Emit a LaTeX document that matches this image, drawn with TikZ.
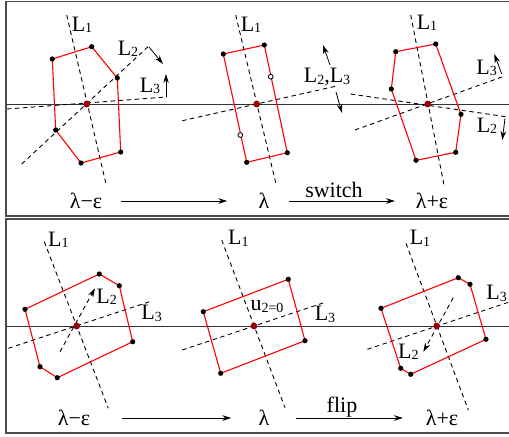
\documentclass[tikz,border=0pt]{standalone}
\usepackage{fontspec}
\setmainfont{Liberation Serif}
\usetikzlibrary{arrows.meta}
\newcommand{\Ls}[1]{L\raisebox{-.15ex}{\scriptsize #1}}
\begin{document}
\begin{tikzpicture}[x=0.5pt, y=-0.5pt, >={Stealth[length=4.5pt,width=2.8pt]},
    every node/.style={font=\fontsize{11}{13}\selectfont, inner sep=1pt},
    dot/.style={circle, fill=black, inner sep=0pt, minimum size=2.6pt},
    odot/.style={circle, draw=black, fill=white, inner sep=0pt, minimum size=2.4pt, line width=0.4pt},
    ctr/.style={circle, fill=red!60!black, inner sep=0pt, minimum size=3.4pt},
    axis/.style={line width=0.45pt, dash pattern=on 2.2pt off 1.8pt},
    poly/.style={red, line width=0.55pt},
    frame/.style={draw=black!70, line width=0.9pt}]
    \useasboundingbox (0,0) rectangle (509,436);

    % frames and horizontal axes
    \draw[frame] (6,1.5) rectangle (530,216);
    \draw[frame] (6,219) rectangle (530,433);
    \draw[black!80, line width=0.5pt] (6,104) -- (509,104);
    \draw[black!80, line width=0.5pt] (6,326) -- (509,326);

    % top left
    \draw[axis] (66.7,15) -- (106,184);
    \draw[axis] (21.7,164) -- (148,46.7);
    \draw[axis] (7,109) -- (166,97);
    \foreach \x/\y [count=\i] in {52.3/59,91.7/46.7,117.3/78,120.7/152,81/163,55.7/130}
        \coordinate (a\i) at (\x,\y);
    \draw[poly] (a1) -- (a2) -- (a3) -- (a4) -- (a5) -- (a6) -- cycle;
    \foreach \i in {1,...,6} \node[dot] (da\i) at (a\i) {};
    \node[ctr] (ca) at (86.7,104) {};
    \node (l1a) at (82,25) {\Ls{1}};
    \node (l2a) at (128,49) {\Ls{2}};
    \node (l3a) at (150,86) {\Ls{3}};
    \draw[->] (149,47) -- (163,64);
    \draw[->] (166,97) -- (166,74);

    % top middle
    \draw[axis] (235.7,15) -- (276,184);
    \draw[axis] (182.3,120.7) -- (336.7,86);
    \foreach \x/\y [count=\i] in {223.3/54,264.3/45,287.3/152.7,246.7/162.3}
        \coordinate (b\i) at (\x,\y);
    \draw[poly] (b1) -- (b2) -- (b3) -- (b4) -- cycle;
    \foreach \i in {1,...,4} \node[dot] (db\i) at (b\i) {};
    \node[odot] (ob1) at (270.7,76.7) {};
    \node[odot] (ob2) at (240.3,135) {};
    \node[ctr] (cb) at (256.7,104) {};
    \node (l1b) at (251,25) {\Ls{1}};
    \node (l23b) at (327,77) {\Ls{2},\Ls{3}};
    \draw[->] (330,65) -- (323,45);
    \draw[->] (336,92) -- (342,113);

    % top right
    \draw[axis] (410.7,15) -- (444,185);
    \draw[axis] (355,130) -- (502.7,76.7);
    \draw[axis] (350.7,94) -- (505.7,116.7);
    \foreach \x/\y [count=\i] in {395.7/51.7,435.7/44,461/114.3,455.7/152.3,416/160.3,391.3/89}
        \coordinate (c\i) at (\x,\y);
    \draw[poly] (c1) -- (c2) -- (c3) -- (c4) -- (c5) -- (c6) -- cycle;
    \foreach \i in {1,...,6} \node[dot] (dc\i) at (c\i) {};
    \node[ctr] (cc) at (427.7,104) {};
    \node (l1c) at (427,23) {\Ls{1}};
    \node (l3c) at (486.7,68) {\Ls{3}};
    \node (l2c) at (487,126) {\Ls{2}};
    \draw[->] (501.7,74) -- (494.3,54);
    \draw[->] (505,118.3) -- (502.3,140);

    % top labels
    \node (m1) at (86,201) {λ−ε};
    \node (m2) at (264,201) {λ};
    \node (m3) at (432,201) {λ+ε};
    \node (sw) at (334,190) {switch};
    \draw[->, line width=0.5pt, shorten <=8pt, shorten >=14.5pt] (m1) -- (m2);
    \draw[->, line width=0.5pt, shorten <=8.5pt, shorten >=9.25pt] (m2) -- (m3);

    % bottom left
    \draw[axis] (44.3,241.7) -- (108.3,408.3);
    \draw[axis] (8.3,348.3) -- (151.7,301);
    \draw[axis, ->] (60,351.7) -- (95,288.3);
    \foreach \x/\y [count=\i] in {25/309.3,99.3/274,119.3/285.7,132.7/341.7,57.3/377.7,40/366.7}
        \coordinate (d\i) at (\x,\y);
    \draw[poly] (d1) -- (d2) -- (d3) -- (d4) -- (d5) -- (d6) -- cycle;
    \foreach \i in {1,...,6} \node[dot] (dd\i) at (d\i) {};
    \node[ctr] (cd) at (76.7,326) {};
    \node (l1d) at (58.3,240) {\Ls{1}};
    \node (l2d) at (106.7,296.7) {\Ls{2}};
    \node (l3d) at (151.7,313.3) {\Ls{3}};

    % bottom middle
    \draw[axis] (221.7,240) -- (285,407.7);
    \draw[axis] (182.3,350) -- (325,302.3);
    \foreach \x/\y [count=\i] in {203.3/311.7,288.3/279.3,305/340.7,220.7/373.3}
        \coordinate (e\i) at (\x,\y);
    \draw[poly] (e1) -- (e2) -- (e3) -- (e4) -- cycle;
    \foreach \i in {1,...,4} \node[dot] (de\i) at (e\i) {};
    \node[ctr] (ce) at (254,326) {};
    \node (l1e) at (238.3,238.3) {\Ls{1}};
    \node (l3e) at (325,314.3) {\Ls{3}};
    \node (u2) at (267,306.7) {u\raisebox{-.15ex}{\scriptsize 2=0}};

    % bottom right
    \draw[axis] (406,243.3) -- (468.3,410);
    \draw[axis] (367.3,349.3) -- (508.3,302.3);
    \draw[axis, ->] (453.3,297.7) -- (423.3,351.7);
    \foreach \x/\y [count=\i] in {381/308.3,458.3/277.7,470/284.3,486/339.3,410.7/374.3,400.7/368.3}
        \coordinate (f\i) at (\x,\y);
    \draw[poly] (f1) -- (f2) -- (f3) -- (f4) -- (f5) -- (f6) -- cycle;
    \foreach \i in {1,...,6} \node[dot] (df\i) at (f\i) {};
    \node[ctr] (cf) at (436.7,326) {};
    \node (l1f) at (420,238.3) {\Ls{1}};
    \node (l3f) at (496.7,293.3) {\Ls{3}};
    \node (l2f) at (408.3,351.7) {\Ls{2}};

    % bottom labels
    \node (m4) at (74,418) {λ−ε};
    \node (m5) at (264,418) {λ};
    \node (m6) at (442,418) {λ+ε};
    \node (fl) at (342,407) {flip};
    \draw[->, line width=0.5pt, shorten <=14.75pt, shorten >=12.5pt] (m4) -- (m5);
    \draw[->, line width=0.5pt, shorten <=12pt, shorten >=10.25pt] (m5) -- (m6);
\end{tikzpicture}
\end{document}
